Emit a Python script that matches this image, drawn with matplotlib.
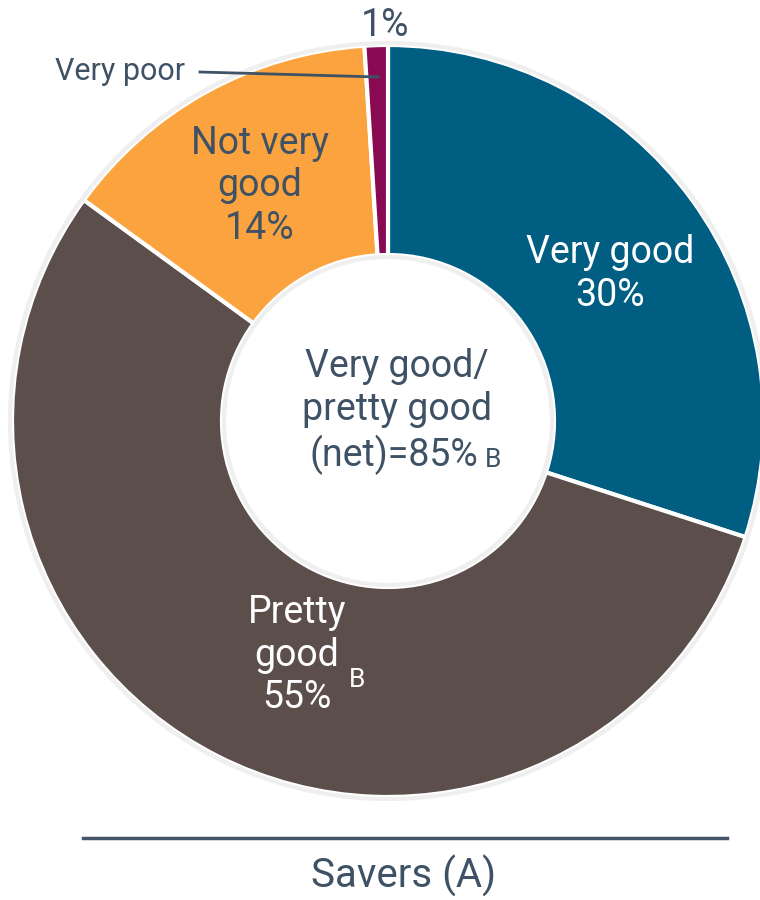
import matplotlib.pyplot as plt
from matplotlib.lines import Line2D

plt.rcParams['font.family'] = ['Roboto', 'DejaVu Sans']

# Share of savers rating their situation, clockwise from the top
labels = ['Very good', 'Pretty good', 'Not very good', 'Very poor']
values = [30, 55, 14, 1]
colors = ['#005E82', '#5C4F4B', '#FBA43F', '#870A52']
net_value = 85
group_label = 'Savers (A)'

TEXT = '#3F5265'

fig = plt.figure(figsize=(7.6, 9), dpi=100)
ax = fig.add_axes([0, 0, 1, 1])

cx, cy, r_out, r_in = 388, 479, 376, 166
wedges, _ = ax.pie(values, colors=colors, startangle=90, counterclock=False,
                   center=(cx, cy), radius=r_out, frame=True,
                   wedgeprops=dict(width=r_out - r_in, edgecolor='white', linewidth=3))
ax.set_xlim(0, 760)
ax.set_ylim(0, 900)
ax.set_aspect('equal')
ax.axis('off')

# faint outline around the ring
for rr in (r_out + 2, r_in - 2):
    ax.add_patch(plt.Circle((cx, cy), rr, fill=False, ec='#EFEFEF', lw=3))

fs = 27
sup = 19
ax.text(610, 900 - 274, f'{labels[0]}\n{values[0]}%', ha='center', va='center',
        color='white', fontsize=fs, linespacing=1.2)
ax.text(297, 900 - 655, f'Pretty\ngood\n{values[1]}%', ha='center', va='center',
        color='white', fontsize=fs, linespacing=1.2)
ax.text(357, 900 - 680, 'B', ha='center', va='center', color='white', fontsize=sup)
ax.text(260, 900 - 186, f'Not very\ngood\n{values[2]}%', ha='center', va='center',
        color=TEXT, fontsize=fs, linespacing=1.2)

# small slice labelled outside
ax.text(385, 900 - 25, f'{values[3]}%', ha='center', va='center', color=TEXT, fontsize=fs)
ax.text(120, 900 - 72, labels[3], ha='center', va='center', color=TEXT, fontsize=22)
ax.plot([200, 378], [900 - 72, 900 - 77], color=TEXT, lw=2)

# net figure in the hole
ax.text(397, 900 - 388, 'Very good/\npretty good', ha='center', va='center',
        color=TEXT, fontsize=fs, linespacing=1.2)
ax.text(394, 900 - 455, f'(net)={net_value}%', ha='center', va='center',
        color=TEXT, fontsize=fs)
ax.text(493, 900 - 460, 'B', ha='center', va='center', color=TEXT, fontsize=sup)

# group rule and label
ax.add_line(Line2D([83, 727], [900 - 838, 900 - 838], color='#44576A', lw=2.5))
ax.text(404, 900 - 876, group_label, ha='center', va='center', color=TEXT, fontsize=29)

fig.savefig('out.png', dpi=100, facecolor='white')
